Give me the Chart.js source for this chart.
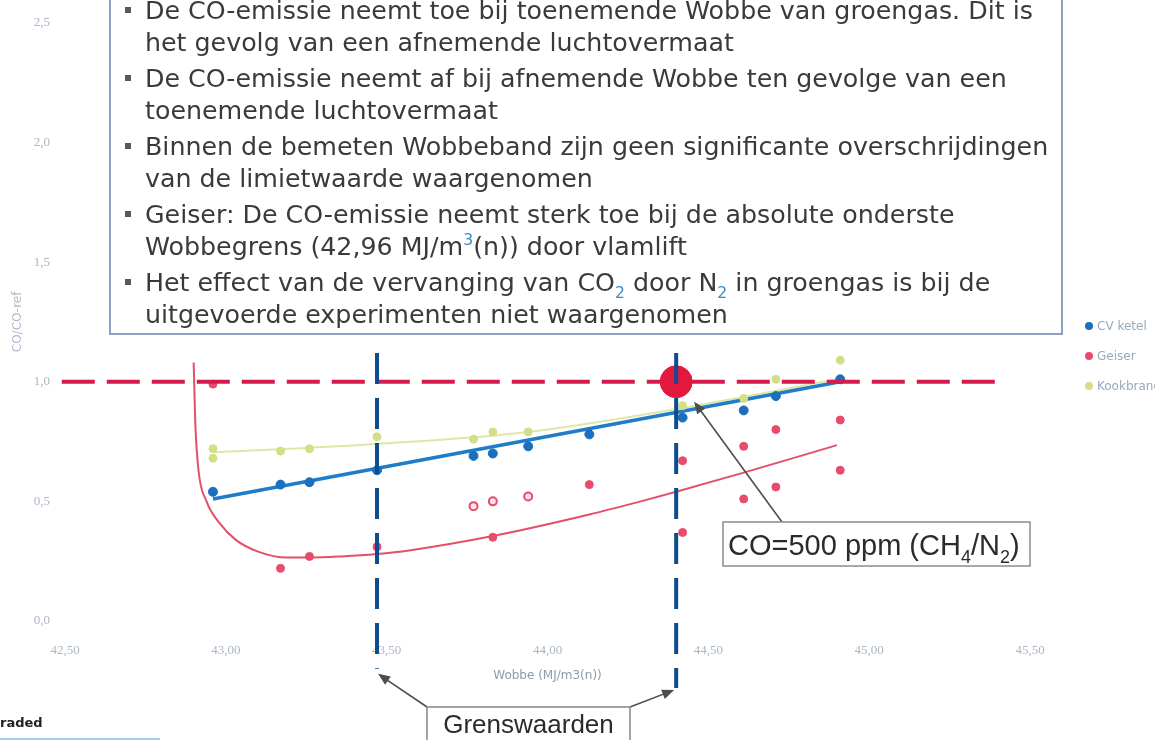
<!DOCTYPE html>
<html>
<head>
<meta charset="utf-8">
<script src="https://cdn.jsdelivr.net/npm/chart.js@4.4.0/dist/chart.umd.min.js"></script>
<style>
  body { margin: 0; background: #fff; }
  canvas { display: block; }
</style>
</head>
<body>
<canvas id="myChart" width="1155" height="740"></canvas>
<script>
// tick labels
const xTickLabels = ["42,50", "43,00", "43,50", "44,00", "44,50", "45,00", "45,50"];
const yTickLabels = ["0,0", "0,5", "1,0", "1,5", "2,0", "2,5"];

// CV ketel measurements (Wobbe MJ/m3(n) vs CO/CO-ref)
const cvWobbe = [42.96, 43.17, 43.26, 43.47, 43.77, 43.83, 43.94, 44.13, 44.42, 44.61, 44.71, 44.91];
const cvRatio = [0.54, 0.57, 0.58, 0.63, 0.69, 0.70, 0.73, 0.78, 0.85, 0.88, 0.94, 1.01];

// Geiser measurements
const geiserWobbe = [42.96, 43.17, 43.26, 43.47, 43.83, 44.13, 44.42, 44.42, 44.61, 44.61, 44.71, 44.71, 44.91, 44.91];
const geiserRatio = [0.99, 0.22, 0.27, 0.31, 0.35, 0.57, 0.67, 0.37, 0.73, 0.51, 0.80, 0.56, 0.84, 0.63];
// geiser points drawn as open rings
const geiserOpenWobbe = [43.77, 43.83, 43.94];
const geiserOpenRatio = [0.48, 0.50, 0.52];

// Kookbrander measurements
const kookWobbe = [42.96, 42.96, 43.17, 43.26, 43.47, 43.77, 43.83, 43.94, 44.42, 44.61, 44.71, 44.91];
const kookRatio = [0.72, 0.68, 0.71, 0.72, 0.77, 0.76, 0.79, 0.79, 0.90, 0.93, 1.01, 1.09];

// trend lines
const cvTrendWobbe = [42.96, 44.91];
const cvTrendRatio = [0.51, 1.00];
const kookTrendWobbe = [42.96, 43.47, 43.94, 44.42, 44.90];
const kookTrendRatio = [0.705, 0.74, 0.79, 0.89, 1.01];
const geiserTrendWobbe = [42.900, 42.905, 42.915, 42.94, 42.98, 43.03, 43.10, 43.19, 43.26, 43.36, 43.47, 43.57, 43.83, 44.13, 44.29, 44.40, 44.61, 44.90];
const geiserTrendRatio = [1.08, 0.83, 0.63, 0.50, 0.41, 0.34, 0.29, 0.265, 0.265, 0.27, 0.28, 0.295, 0.355, 0.445, 0.50, 0.54, 0.62, 0.735];

// limit value CO/CO-ref = 1 and Wobbe band limits
const limitWobbe = [42.49, 45.42];
const limitRatio = [1.0, 1.0];
const grensLeftWobbe = [43.47, 43.47];
const grensLeftRatio = [1.12, -0.20];
const grensRightWobbe = [44.40, 44.40];
const grensRightRatio = [1.12, -0.28];
const co500Wobbe = [44.40];
const co500Ratio = [1.0];

const notes = [
  ["De CO-emissie neemt toe bij toenemende Wobbe van groengas. Dit is", "het gevolg van een afnemende luchtovermaat"],
  ["De CO-emissie neemt af bij afnemende Wobbe ten gevolge van een", "toenemende luchtovermaat"],
  ["Binnen de bemeten Wobbeband zijn geen significante overschrijdingen", "van de limietwaarde waargenomen"],
  ["Geiser: De CO-emissie neemt sterk toe bij de absolute onderste", "Wobbegrens (42,96 MJ/m^{3}(n)) door vlamlift"],
  ["Het effect van de vervanging van CO_{2} door N_{2} in groengas is bij de", "uitgevoerde experimenten niet waargenomen"]
];

const legendItems = [
  { label: "CV ketel", color: "#1b6fbd" },
  { label: "Geiser", color: "#e94b6a" },
  { label: "Kookbrander", color: "#d3de86" }
];

const pts = (xs, ys) => xs.map((x, i) => ({ x, y: ys[i] }));

// draw text with _{sub} and ^{sup} parts
function drawRich(ctx, text, x, y, size, family, color, scriptColor) {
  const parts = text.split(/(_\{[^}]*\}|\^\{[^}]*\})/);
  ctx.textBaseline = "alphabetic";
  ctx.textAlign = "left";
  parts.forEach(p => {
    if (!p) return;
    let str = p, dy = 0, fs = size, col = color;
    if (p.startsWith("_{")) { str = p.slice(2, -1); dy = size * 0.28; fs = size * 0.62; col = scriptColor; }
    if (p.startsWith("^{")) { str = p.slice(2, -1); dy = -size * 0.38; fs = size * 0.62; col = scriptColor; }
    ctx.font = fs + "px " + family;
    ctx.fillStyle = col;
    ctx.fillText(str, x, y + dy);
    x += ctx.measureText(str).width;
  });
}

function arrow(ctx, x1, y1, x2, y2) {
  const a = Math.atan2(y2 - y1, x2 - x1);
  ctx.strokeStyle = "#4d4d4d";
  ctx.fillStyle = "#4d4d4d";
  ctx.lineWidth = 1.6;
  ctx.beginPath();
  ctx.moveTo(x1, y1);
  ctx.lineTo(x2 - 8 * Math.cos(a), y2 - 8 * Math.sin(a));
  ctx.stroke();
  ctx.beginPath();
  ctx.moveTo(x2, y2);
  ctx.lineTo(x2 - 12 * Math.cos(a) + 5 * Math.sin(a), y2 - 12 * Math.sin(a) - 5 * Math.cos(a));
  ctx.lineTo(x2 - 12 * Math.cos(a) - 5 * Math.sin(a), y2 - 12 * Math.sin(a) + 5 * Math.cos(a));
  ctx.closePath();
  ctx.fill();
}

const overlay = {
  id: "overlay",
  afterDraw(chart) {
    const ctx = chart.ctx;
    const xs = chart.scales.x, ys = chart.scales.y;
    ctx.save();

    // legend on the right
    legendItems.forEach((it, i) => {
      const y = 326 + i * 30;
      ctx.fillStyle = it.color;
      ctx.beginPath();
      ctx.arc(1089, y, 4, 0, Math.PI * 2);
      ctx.fill();
      ctx.font = "12px 'DejaVu Sans'";
      ctx.fillStyle = "#9aa9bb";
      ctx.textBaseline = "middle";
      ctx.fillText(it.label, 1097, y + 1);
    });

    // notes box
    ctx.fillStyle = "#fff";
    ctx.fillRect(110, -4, 952, 338);
    ctx.strokeStyle = "#8aa2bf";
    ctx.lineWidth = 2;
    ctx.strokeRect(110, -4, 952, 338);
    const base = [19, 87, 155, 223, 291];
    notes.forEach((lines, i) => {
      ctx.fillStyle = "#5a5a5a";
      ctx.fillRect(125, base[i] - 12, 6, 6);
      lines.forEach((ln, j) => {
        drawRich(ctx, ln, 145, base[i] + j * 32, 25.3, "'DejaVu Sans'", "#3a3a3a", "#3d8cc4");
      });
    });

    // CO=500 ppm callout
    const dotX = xs.getPixelForValue(co500Wobbe[0]);
    const dotY = ys.getPixelForValue(co500Ratio[0]);
    arrow(ctx, 782, 522, dotX + 18, dotY + 20);
    ctx.fillStyle = "#fff";
    ctx.fillRect(723, 522, 307, 44);
    ctx.strokeStyle = "#8c8c8c";
    ctx.lineWidth = 1.5;
    ctx.strokeRect(723, 522, 307, 44);
    drawRich(ctx, "CO=500 ppm (CH_{4}/N_{2})", 728, 555, 29, "'Liberation Sans'", "#2b2b2b", "#2b2b2b");

    // Grenswaarden callout
    const gl = xs.getPixelForValue(grensLeftWobbe[1]);
    const gr = xs.getPixelForValue(grensRightWobbe[1]);
    arrow(ctx, 427, 707, gl + 1, ys.getPixelForValue(grensLeftRatio[1]) + 5);
    arrow(ctx, 630, 707, gr - 2, ys.getPixelForValue(grensRightRatio[1]) + 2);
    ctx.fillStyle = "#fff";
    ctx.fillRect(427, 707, 203, 40);
    ctx.strokeStyle = "#8c8c8c";
    ctx.strokeRect(427, 707, 203, 40);
    ctx.font = "26px 'Liberation Sans'";
    ctx.fillStyle = "#2b2b2b";
    ctx.textAlign = "center";
    ctx.textBaseline = "alphabetic";
    ctx.fillText("Grenswaarden", 528.5, 733);

    // scan leftovers at the bottom
    ctx.textAlign = "left";
    ctx.font = "bold 13px 'DejaVu Sans'";
    ctx.fillStyle = "#222";
    ctx.fillText("raded", 0, 727);
    ctx.strokeStyle = "#a6cdee";
    ctx.lineWidth = 2;
    ctx.beginPath();
    ctx.moveTo(0, 739);
    ctx.lineTo(160, 739);
    ctx.stroke();
    ctx.restore();
  }
};

const ctx = document.getElementById("myChart").getContext("2d");

new Chart(ctx, {
  type: "scatter",
  data: {
    datasets: [
      { label: "Grens links", data: pts(grensLeftWobbe, grensLeftRatio), showLine: true, borderColor: "#0e4c8e", borderWidth: 4, borderDash: [31, 14], pointRadius: 0, clip: false, order: 0 },
      { label: "Grens rechts", data: pts(grensRightWobbe, grensRightRatio), showLine: true, borderColor: "#0e4c8e", borderWidth: 4, borderDash: [31, 14], pointRadius: 0, clip: false, order: 0 },
      { label: "CO=500 ppm", data: pts(co500Wobbe, co500Ratio), backgroundColor: "#e2183e", borderColor: "#e2183e", pointRadius: 16, order: 1 },
      { label: "Limiet", data: pts(limitWobbe, limitRatio), showLine: true, borderColor: "#d31c4c", borderWidth: 4, borderDash: [33, 12], pointRadius: 0, clip: false, order: 2 },
      { label: "CV ketel", data: pts(cvWobbe, cvRatio), backgroundColor: "#1b6fbd", borderColor: "#1b6fbd", pointRadius: 4.5, order: 3 },
      { label: "Geiser", data: pts(geiserWobbe, geiserRatio), backgroundColor: "#e94b6a", borderColor: "#e94b6a", pointRadius: 4, order: 4 },
      { label: "Geiser open", data: pts(geiserOpenWobbe, geiserOpenRatio), backgroundColor: "#fbe3e8", borderColor: "#e94b6a", borderWidth: 2, pointRadius: 4, order: 4 },
      { label: "Kookbrander", data: pts(kookWobbe, kookRatio), backgroundColor: "#d3de86", borderColor: "#d3de86", pointRadius: 4, order: 5 },
      { label: "CV trend", data: pts(cvTrendWobbe, cvTrendRatio), showLine: true, borderColor: "#1f7cc8", borderWidth: 3.5, pointRadius: 0, order: 6 },
      { label: "Geiser trend", data: pts(geiserTrendWobbe, geiserTrendRatio), showLine: true, borderColor: "#e2506a", borderWidth: 2, pointRadius: 0, cubicInterpolationMode: "monotone", order: 7 },
      { label: "Kook trend", data: pts(kookTrendWobbe, kookTrendRatio), showLine: true, borderColor: "#dfe7a6", borderWidth: 2, pointRadius: 0, cubicInterpolationMode: "monotone", order: 8 }
    ]
  },
  options: {
    responsive: false,
    animation: false,
    layout: { padding: { left: 0, right: 125, top: 19, bottom: 53 } },
    plugins: { legend: { display: false }, tooltip: { enabled: false } },
    scales: {
      x: {
        type: "linear",
        min: 42.5,
        max: 45.5,
        afterFit: s => { s.height = 66; },
        grid: { display: false, drawTicks: false },
        border: { display: false },
        ticks: {
          stepSize: 0.5,
          padding: 22,
          color: "#aab6c6",
          font: { family: "'Liberation Serif'", size: 13 },
          callback: (v, i) => xTickLabels[i]
        },
        title: {
          display: true,
          text: "Wobbe (MJ/m3(n))",
          color: "#8c9bb0",
          font: { family: "'DejaVu Sans'", size: 12 },
          padding: { top: 4, bottom: 4 }
        }
      },
      y: {
        min: 0,
        max: 2.5,
        afterFit: s => { s.width = 65; },
        grid: { display: false, drawTicks: false },
        border: { display: false },
        ticks: {
          stepSize: 0.5,
          padding: 15,
          color: "#aab6c6",
          font: { family: "'Liberation Serif'", size: 13 },
          callback: (v, i) => yTickLabels[i]
        },
        title: {
          display: true,
          text: "CO/CO-ref",
          color: "#b0bccb",
          font: { family: "'DejaVu Sans'", size: 12 },
          padding: { top: 11, bottom: 0 }
        }
      }
    }
  },
  plugins: [overlay]
});
</script>
</body>
</html>
